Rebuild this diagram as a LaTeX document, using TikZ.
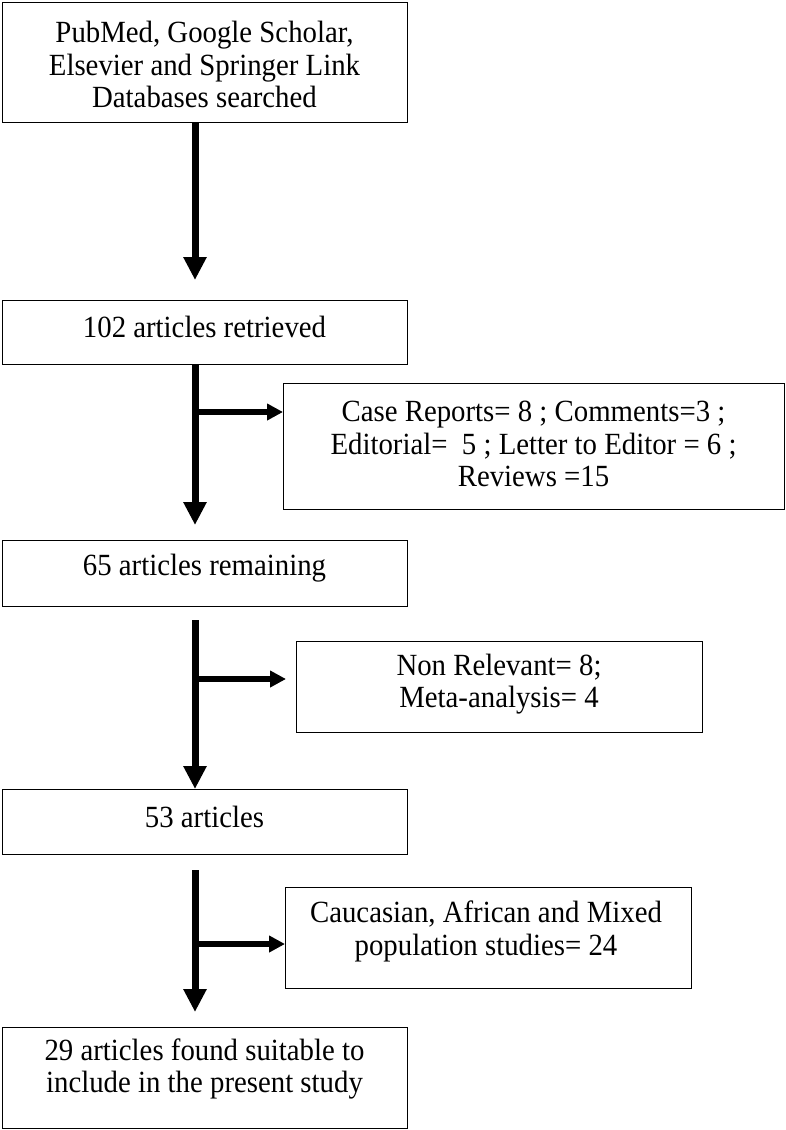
\documentclass[tikz,border=0pt]{standalone}
\usepackage{fontspec}
\usepackage{graphicx}
\setmainfont{Liberation Serif}
\usetikzlibrary{arrows.meta,calc}
\newcommand{\vs}[1]{\scalebox{1}[1.07]{#1}}
\begin{document}
\begin{tikzpicture}[x=1pt,y=-1pt,
  box/.style={draw, line width=1.4pt, inner sep=0pt, anchor=north west},
  txt/.style={font=\fontsize{28.8}{32.5}\selectfont, align=center, inner sep=0pt},
  spine/.style={line width=7pt, -{Triangle[width=22pt,length=23pt]}},
  branch/.style={line width=6pt, -{Triangle[width=16pt,length=16pt]}},
]
\useasboundingbox (0,0) rectangle (786,1130);
% boxes
\node[box, minimum width=405pt, minimum height=120pt] (b1) at (2,2) {};
\node[box, minimum width=405pt, minimum height=64pt] (b2) at (2,300) {};
\node[box, minimum width=405pt, minimum height=66pt] (b3) at (2,540) {};
\node[box, minimum width=405pt, minimum height=65pt] (b4) at (2,789) {};
\node[box, minimum width=405pt, minimum height=101pt] (b5) at (2,1027) {};
\node[box, minimum width=501pt, minimum height=126pt] (s1) at (283,383) {};
\node[box, minimum width=406pt, minimum height=91pt] (s2) at (296,641) {};
\node[box, minimum width=406pt, minimum height=101pt] (s3) at (285,887) {};
% texts
\node[txt] (t1) at (204.5,64.5) {\vs{PubMed, Google Scholar,}\\\vs{Elsevier and Springer Link}\\\vs{Databases searched}};
\node[txt] (t2) at (204.5,327) {\vs{102 articles retrieved}};
\node[txt] (t3) at (204.5,568) {\vs{65 articles remaining}};
\node[txt] (t4) at (204.5,817) {\vs{53 articles}};
\node[txt] (t5) at (204.5,1069) {\vs{29 articles found suitable to}\\\vs{include in the present study}};
\node[txt] (ts1) at (533.5,444) {\vs{Case Reports= 8 ; Comments=3 ;}\\\vs{Editorial=\ \ 5 ; Letter to Editor = 6 ;}\\\vs{Reviews =15}};
\node[txt] (ts2) at (499,684) {\vs{Non Relevant= 8;}\\\vs{Meta-analysis= 4}};
\node[txt] (ts3) at (486,931.5) {\vs{Caucasian, African and Mixed}\\\vs{population studies= 24}};
% connectors
\coordinate (sp) at (195,0);
\draw[spine] (b1.south -| sp) -- ($(b2.north -| sp)+(0,-20)$);
\draw[spine] (b2.south -| sp) -- ($(b3.north -| sp)+(0,-15)$);
\draw[spine] ($(b3.south -| sp)+(0,13)$) -- (b4.north -| sp);
\draw[spine] ($(b4.south -| sp)+(0,15)$) -- ($(b5.north -| sp)+(0,-15)$);
\coordinate (j1) at (195,412);
\coordinate (j2) at (195,679);
\coordinate (j3) at (195,944);
\draw[branch] (j1) -- (j1 -| s1.west);
\draw[branch] (j2) -- ($(j2 -| s2.west)+(-10,0)$);
\draw[branch] (j3) -- (j3 -| s3.west);
\end{tikzpicture}
\end{document}
